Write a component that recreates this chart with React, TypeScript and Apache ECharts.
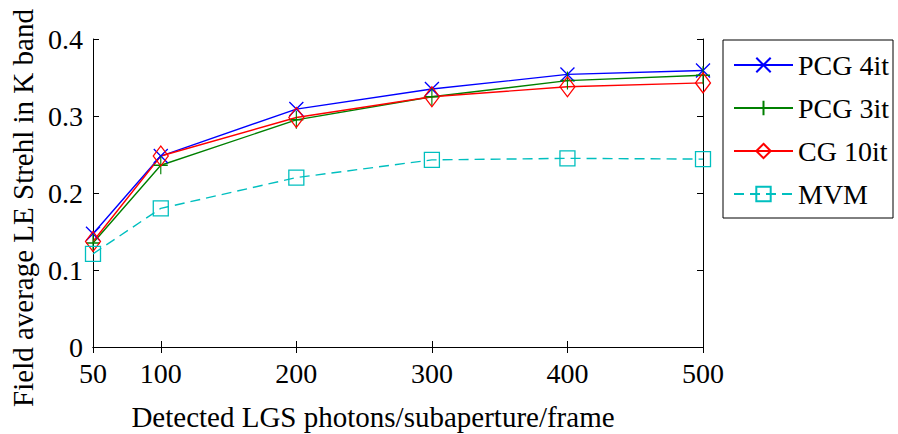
import React, { useEffect, useRef } from "react";
import * as echarts from "echarts";

const xValues = [50, 100, 200, 300, 400, 500];
const xTickValues = [50, 100, 200, 300, 400, 500];
const yTickLabels = ["0", "0.1", "0.2", "0.3", "0.4"];

const pcg4it = [0.147, 0.248, 0.309, 0.335, 0.354, 0.359];
const pcg3it = [0.135, 0.236, 0.295, 0.325, 0.346, 0.353];
const cg10it = [0.137, 0.248, 0.298, 0.325, 0.338, 0.343];
const mvm = [0.121, 0.180, 0.220, 0.243, 0.245, 0.244];

const seriesNames = ["PCG 4it", "PCG 3it", "CG 10it", "MVM"];
const xAxisName = "Detected LGS photons/subaperture/frame";
const yAxisName = "Field average LE Strehl in K band";

const FONT = "'Liberation Serif', 'Times New Roman', serif";

function pairs(vals: number[]) {
  return xValues.map((x, i) => [x, vals[i]]);
}

function mkSeries(
  name: string,
  vals: number[],
  color: string,
  symbol: string,
  symbolSize: number | number[],
  dashed: boolean
) {
  return {
    name,
    type: "line",
    data: pairs(vals),
    symbol,
    symbolSize,
    showSymbol: true,
    lineStyle: { color, width: 1.4, type: dashed ? [10, 6] : "solid" },
    itemStyle: { color: "transparent", borderColor: color, borderWidth: 1.3 },
    emphasis: { disabled: true },
    z: 3,
  };
}

export default function App() {
  const ref = useRef<HTMLDivElement>(null);
  useEffect(() => {
    if (!ref.current) return;
    const chart = echarts.init(ref.current, undefined, { renderer: "svg" });
    const axisLine = { show: true, lineStyle: { color: "#000", width: 1 } };
    chart.setOption({
      animation: false,
      backgroundColor: "#fff",
      grid: { left: 93, right: 195, top: 39, bottom: 87, containLabel: false },
      xAxis: [
        {
          type: "value",
          min: 50,
          max: 500,
          position: "bottom",
          axisLine,
          splitLine: { show: false },
          axisTick: { show: true, inside: true, length: 6, customValues: xTickValues, lineStyle: { color: "#000" } },
          axisLabel: {
            customValues: xTickValues,
            margin: 12,
            color: "#000",
            fontFamily: FONT,
            fontSize: 28,
          },
        },
        {
          type: "value",
          min: 50,
          max: 500,
          position: "top",
          axisLine,
          splitLine: { show: false },
          axisTick: { show: true, inside: true, length: 6, customValues: xTickValues, lineStyle: { color: "#000" } },
          axisLabel: { show: false },
        },
      ],
      yAxis: [
        {
          type: "value",
          min: 0,
          max: 0.4,
          interval: 0.1,
          position: "left",
          axisLine,
          splitLine: { show: false },
          axisTick: { show: true, inside: true, length: 6, lineStyle: { color: "#000" } },
          axisLabel: {
            margin: 10,
            color: "#000",
            fontFamily: FONT,
            fontSize: 28,
            formatter: (v: number) => yTickLabels[Math.round(v * 10)] ?? "",
          },
        },
        {
          type: "value",
          min: 0,
          max: 0.4,
          interval: 0.1,
          position: "right",
          axisLine,
          splitLine: { show: false },
          axisTick: { show: true, inside: true, length: 6, lineStyle: { color: "#000" } },
          axisLabel: { show: false },
        },
      ],
      legend: {
        show: true,
        orient: "vertical",
        left: 723,
        top: 40,
        padding: [11, 4, 11, 10],
        itemWidth: 59,
        itemHeight: 18,
        itemGap: 15,
        data: seriesNames,
        textStyle: { color: "#000", fontFamily: FONT, fontSize: 28, lineHeight: 28 },
      },
      graphic: [
        {
          type: "rect",
          shape: { x: 723, y: 40, width: 170, height: 178 },
          style: { fill: "none", stroke: "#000", lineWidth: 1 },
          z: 10,
        },
        {
          type: "text",
          x: 373,
          y: 417,
          style: {
            text: xAxisName,
            fill: "#000",
            font: `29px ${FONT}`,
            align: "center",
            verticalAlign: "middle",
          },
        },
        {
          type: "text",
          x: 23,
          y: 208,
          rotation: Math.PI / 2,
          style: {
            text: yAxisName,
            fill: "#000",
            font: `29px ${FONT}`,
            align: "center",
            verticalAlign: "middle",
          },
        },
      ],
      series: [
        mkSeries(seriesNames[0], pcg4it, "#0000ff", "path://M0,0L10,10M10,0L0,10", 14, false),
        mkSeries(seriesNames[1], pcg3it, "#008000", "path://M5,0L5,10M0,5L10,5", [14, 18], false),
        mkSeries(seriesNames[2], cg10it, "#ff0000", "diamond", [15, 20], false),
        mkSeries(seriesNames[3], mvm, "#00bfbf", "rect", 15, true),
      ],
    });
    return () => chart.dispose();
  }, []);
  return (
    <div
      ref={ref}
      style={{ position: "fixed", left: 0, top: 0, width: 898, height: 434, background: "#fff" }}
    />
  );
}
